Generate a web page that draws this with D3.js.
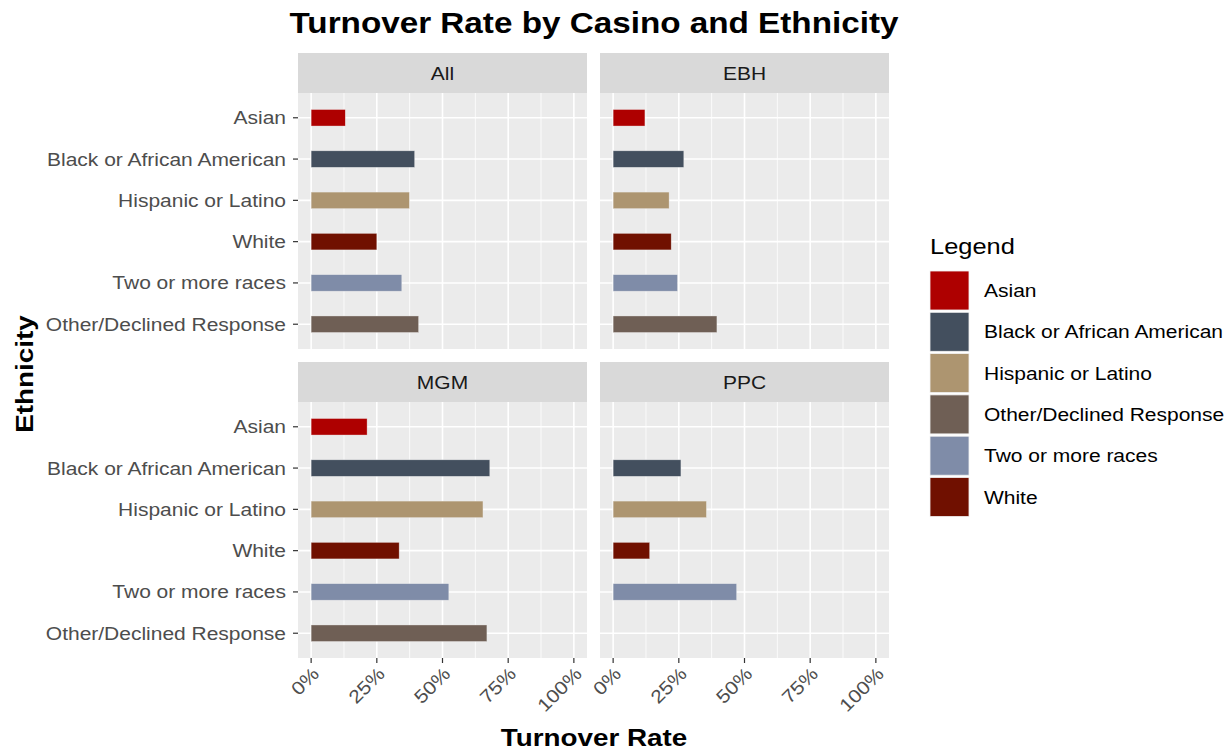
<!DOCTYPE html>
<html>
<head>
<meta charset="utf-8">
<script src="https://cdn.jsdelivr.net/npm/d3@7"></script>
<style>
  body { margin: 0; background: #fff; }
  text { font-family: "Liberation Sans", Arial, sans-serif; }
</style>
</head>
<body>
<svg id="chart" width="1230" height="752"></svg>
<script>
// data
const ethnicities = ['Asian', 'Black or African American', 'Hispanic or Latino', 'White', 'Two or more races', 'Other/Declined Response'];
const casinos = ['All', 'EBH', 'MGM', 'PPC'];
const allRates = [0.130, 0.394, 0.374, 0.250, 0.345, 0.409];
const ebhRates = [0.121, 0.269, 0.213, 0.221, 0.245, 0.395];
const mgmRates = [0.213, 0.680, 0.654, 0.335, 0.524, 0.669];
const ppcRates = [null, 0.258, 0.355, 0.139, 0.470, null];
const xTicks = [0, 0.25, 0.5, 0.75, 1];
const legendOrder = ['Asian', 'Black or African American', 'Hispanic or Latino', 'Other/Declined Response', 'Two or more races', 'White'];
const colors = ['#AE0000', '#434F5E', '#AD9570', '#701000', '#7F8CA8', '#6F5F55'];

const rates = { All: allRates, EBH: ebhRates, MGM: mgmRates, PPC: ppcRates };
const color = d3.scaleOrdinal().domain(ethnicities).range(colors);

const svg = d3.select('#chart');
const SX = 1.135; // reference text is rendered a bit wider than Liberation Sans

// text helper: position, optional rotation, then widen along the text direction
function label(sel, x, y, str, opts = {}) {
  const rot = opts.rotate ? ` rotate(${opts.rotate})` : '';
  return sel.append('text')
    .attr('transform', `translate(${x},${y})${rot} scale(${SX},1)`)
    .attr('text-anchor', opts.anchor || 'start')
    .attr('font-size', opts.size || 18.5)
    .attr('font-weight', opts.bold ? 'bold' : null)
    .attr('fill', opts.fill || '#000')
    .text(str);
}

// panel geometry (ggplot facet_wrap 2x2)
const cols = [298, 600];
const rows = [53, 362];
const panelW = 289;
const stripH = 40;
const plotH = 256;

const x = d3.scaleLinear().domain([-0.05, 1.05]).range([0, panelW]);
// ggplot discrete expansion of 0.6 on each side
const y = d3.scalePoint().domain(ethnicities).range([0, plotH]).padding(0.6);
const barH = y.step() * 0.4;

casinos.forEach((c, i) => {
  const px = cols[i % 2];
  const py = rows[Math.floor(i / 2)];
  const g = svg.append('g').attr('transform', `translate(${px},${py})`);

  // strip
  g.append('rect').attr('width', panelW).attr('height', stripH).attr('fill', '#D9D9D9');
  label(g, panelW / 2, stripH / 2 + 6.5, c, { anchor: 'middle', fill: '#1A1A1A' });

  const p = g.append('g').attr('transform', `translate(0,${stripH})`);
  p.append('rect').attr('width', panelW).attr('height', plotH).attr('fill', '#EBEBEB');

  // minor grid
  const minor = [0.125, 0.375, 0.625, 0.875];
  p.selectAll('.minor').data(minor).join('line')
    .attr('x1', d => x(d)).attr('x2', d => x(d)).attr('y1', 0).attr('y2', plotH)
    .attr('stroke', '#fff').attr('stroke-width', 0.8);
  // major grid
  p.selectAll('.vmaj').data(xTicks).join('line')
    .attr('x1', d => x(d)).attr('x2', d => x(d)).attr('y1', 0).attr('y2', plotH)
    .attr('stroke', '#fff').attr('stroke-width', 1.6);
  p.selectAll('.hmaj').data(ethnicities).join('line')
    .attr('x1', 0).attr('x2', panelW).attr('y1', d => y(d)).attr('y2', d => y(d))
    .attr('stroke', '#fff').attr('stroke-width', 1.6);

  // bars
  const data = ethnicities.map((e, k) => ({ e, v: rates[c][k] })).filter(d => d.v != null);
  p.selectAll('.bar').data(data).join('rect')
    .attr('x', x(0)).attr('y', d => y(d.e) - barH / 2)
    .attr('width', d => x(d.v) - x(0)).attr('height', barH)
    .attr('fill', d => color(d.e))
    .attr('stroke', '#F2F2F2').attr('stroke-opacity', 0.6).attr('stroke-width', 0.6);

  // y axis on left column
  if (i % 2 === 0) {
    p.selectAll('.ytick').data(ethnicities).join('line')
      .attr('x1', -5).attr('x2', 0).attr('y1', d => y(d)).attr('y2', d => y(d))
      .attr('stroke', '#333').attr('stroke-width', 1.2);
    ethnicities.forEach(e => label(p, -12, y(e) + 6.5, e, { anchor: 'end', fill: '#4D4D4D' }));
  }

  // x axis on bottom row
  if (i >= 2) {
    p.selectAll('.xtick').data(xTicks).join('line')
      .attr('x1', d => x(d)).attr('x2', d => x(d)).attr('y1', plotH).attr('y2', plotH + 5)
      .attr('stroke', '#333').attr('stroke-width', 1.2);
    xTicks.forEach(t => label(p, x(t) + 9, plotH + 17, d3.format('.0%')(t),
      { anchor: 'end', fill: '#4D4D4D', rotate: -45 }));
  }
});

// titles
label(svg, 594, 33, 'Turnover Rate by Casino and Ethnicity', { anchor: 'middle', size: 29.3, bold: true });
label(svg, 594, 746, 'Turnover Rate', { anchor: 'middle', size: 24.5, bold: true });
label(svg, 33, 374, 'Ethnicity', { anchor: 'middle', size: 24.5, bold: true, rotate: -90 });

// legend
const lg = svg.append('g').attr('transform', 'translate(930,246)');
label(lg, 0, 8, 'Legend', { size: 22.4 });
const keyStep = 41.3;
legendOrder.forEach((d, k) => {
  const it = lg.append('g').attr('transform', `translate(0,${25 + k * keyStep})`);
  it.append('rect').attr('width', 39).attr('height', 39).attr('fill', color(d))
    .attr('stroke', '#F2F2F2').attr('stroke-width', 0.8);
  label(it, 54, 26, d);
});
</script>
</body>
</html>
